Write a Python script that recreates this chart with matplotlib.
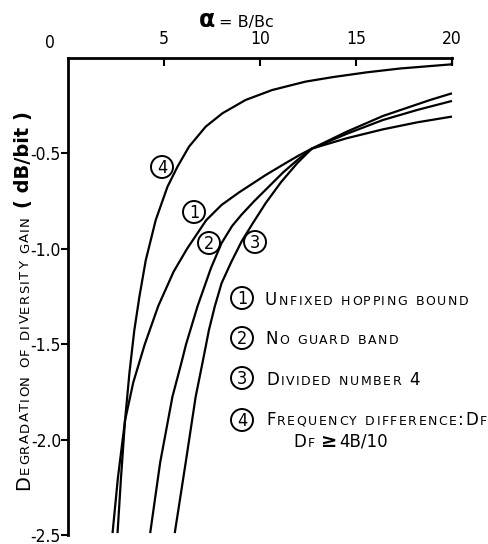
import matplotlib
matplotlib.use("Agg")
import matplotlib.pyplot as plt
from matplotlib.transforms import IdentityTransform
from matplotlib.patches import Circle

plt.rcParams["axes.unicode_minus"] = False
plt.rcParams["font.family"] = ["DejaVu Sans"]
COND = dict(family="DejaVu Sans", stretch="condensed")

W, H = 488, 544

# curves (x = alpha = B/Bc, y = degradation in dB/bit)
c1_x = [2.32, 2.6, 2.97, 3.4, 4.0, 4.7, 5.5, 6.2, 7.2, 8.0, 8.9, 10.3, 11.3, 12.0, 12.7, 14.5, 16.4, 18.2, 20.0]
c1_y = [-2.49, -2.2, -1.9, -1.7, -1.5, -1.3, -1.12, -1.0, -0.85, -0.77, -0.705, -0.613, -0.553, -0.512, -0.475, -0.421, -0.374, -0.337, -0.307]

c2_x = [4.28, 4.8, 5.44, 5.9, 6.15, 6.75, 7.45, 8.0, 8.55, 9.05, 9.7, 10.3, 11.2, 12.0, 12.7, 14.5, 16.4, 18.2, 20.0]
c2_y = [-2.49, -2.12, -1.775, -1.6, -1.5, -1.3, -1.1, -0.97, -0.88, -0.82, -0.75, -0.69, -0.6, -0.53, -0.475, -0.398, -0.325, -0.272, -0.225]

c3_x = [5.56, 6.13, 6.65, 7.0, 7.34, 7.65, 8.0, 8.5, 9.05, 9.6, 10.3, 11.1, 11.95, 12.7, 14.5, 16.4, 18.86, 20.0]
c3_y = [-2.49, -2.12, -1.775, -1.6, -1.426, -1.3, -1.18, -1.07, -0.96, -0.87, -0.76, -0.65, -0.55, -0.475, -0.387, -0.304, -0.22, -0.185]

c4_x = [2.58, 2.76, 2.97, 3.2, 3.45, 3.72, 4.05, 4.57, 5.18, 5.7, 6.3, 7.17, 8.04, 9.25, 10.63, 12.36, 13.8, 15.57, 17.3, 20.0]
c4_y = [-2.49, -2.2, -1.9, -1.65, -1.43, -1.25, -1.06, -0.849, -0.675, -0.57, -0.465, -0.36, -0.29, -0.22, -0.168, -0.124, -0.1, -0.075, -0.055, -0.033]

x_ticks = [5, 10, 15, 20]
y_ticks = [-0.5, -1.0, -1.5, -2.0, -2.5]
y_ticklabels = ["-0.5", "-1.0", "-1.5", "-2.0", "-2.5"]

fig = plt.figure(figsize=(W / 100, H / 100), dpi=100)
ax = fig.add_axes([68 / W, 1 - 535 / H, (452 - 68) / W, (535 - 58) / H])

for c_x, c_y in [(c1_x, c1_y), (c2_x, c2_y), (c3_x, c3_y), (c4_x, c4_y)]:
    ax.plot(c_x, c_y, color="black", lw=1.6, clip_on=False, solid_capstyle="butt")
ax.plot([20, 20], [0, c4_y[-1]], color="black", lw=1.6, clip_on=False)

ax.set_xlim(0, 20)
ax.set_ylim(-2.5, 0)
for s in ["bottom", "right"]:
    ax.spines[s].set_visible(False)
for s in ["top", "left"]:
    ax.spines[s].set_linewidth(2)

ax.xaxis.tick_top()
ax.set_xticks(x_ticks)
ax.set_xticklabels([str(v) for v in x_ticks], fontsize=12.5, **COND)
ax.tick_params(axis="x", direction="in", length=6, width=1.5, pad=7)
ax.set_yticks(y_ticks)
ax.set_yticklabels(y_ticklabels, fontsize=12.5, **COND)
ax.tick_params(axis="y", direction="out", length=5, width=1.5, pad=0)

renderer = fig.canvas.get_renderer()
ID = IdentityTransform()


def px(x, y):
    return x, H - y


def sc_text(x, y, parts, big, small, rotation=0, track=2.0, gap=6):
    # fake small caps: "B" big capital, "s" small capital, "b" bold run,
    # "N" normal run kept whole, " " word gap; optional third item = own size
    X, Y = px(x, y)
    for part in parts:
        s, kind = part[0], part[1]
        if kind == " ":
            if rotation:
                Y += gap
            else:
                X += gap
            continue
        size = small if kind == "s" else big
        if len(part) > 2:
            size = part[2]
        weight = "bold" if kind == "b" else "normal"
        chars = [s] if kind in ("b", "N") else list(s)
        for ch in chars:
            t = fig.text(X, Y, ch, transform=ID, fontsize=size, weight=weight,
                         rotation=rotation, rotation_mode="anchor",
                         ha="left", va="baseline")
            bb = t.get_window_extent(renderer=renderer)
            if rotation:
                Y = bb.y1 + track
            else:
                X = bb.x1 + track


def circ(x, y, d, r=11, size=13):
    X, Y = px(x, y)
    fig.add_artist(Circle((X, Y), r, transform=ID, fill=False, lw=1.4, color="black"))
    fig.text(X, Y - 1, d, transform=ID, fontsize=size, ha="center", va="center", **COND)


# x axis title and the lone 0 label
fig.text(50 / W, 1 - 48 / H, "0", fontsize=12.5, ha="center", va="baseline", **COND)
fig.text(215 / W, 1 - 27 / H, "α", fontsize=17, weight="bold", ha="right", va="baseline")
fig.text(219 / W, 1 - 27 / H, "= B/Bc", fontsize=11.5, ha="left", va="baseline")

# y axis title in small caps
sc_text(29, 490, [("D", "B"), ("EGRADATION", "s"), (" ", " "), ("OF", "s"), (" ", " "),
                  ("DIVERSITY", "s"), (" ", " "), ("GAIN", "s"), (" ", " "),
                  ("( dB/bit )", "b")], 14, 9.5, rotation=90, track=1.2, gap=7)

# labels on the curves
circ(162, 167, "4")
circ(194, 212, "1")
circ(209, 243, "2")
circ(255, 242, "3")

# key
circ(242, 298, "1")
circ(242, 338, "2")
circ(242, 378, "3")
circ(242, 420, "4")
sc_text(265, 305, [("U", "B"), ("NFIXED", "s"), (" ", " "), ("HOPPING", "s"), (" ", " "),
                   ("BOUND", "s")], 12, 9, track=1.5, gap=7)
sc_text(265, 344, [("N", "B"), ("O", "s"), (" ", " "), ("GUARD", "s"), (" ", " "),
                   ("BAND", "s")], 12, 9, track=1.5, gap=7)
sc_text(266, 385, [("D", "B"), ("IVIDED", "s"), (" ", " "), ("NUMBER", "s"), (" ", " "),
                   ("4", "B")], 12, 9, track=1.5, gap=7)
sc_text(266, 425, [("F", "B"), ("REQUENCY", "s"), (" ", " "), ("DIFFERENCE", "s"),
                   (":", "B"), ("D", "B"), ("F", "s")], 12, 9, track=1.5, gap=7)
sc_text(293, 447, [("D", "B"), ("F", "s"), (" ", " "), ("≥", "b", 14), ("4B/10", "N")],
        12, 9, track=1.5, gap=5)

fig.savefig("out.png", dpi=100)
